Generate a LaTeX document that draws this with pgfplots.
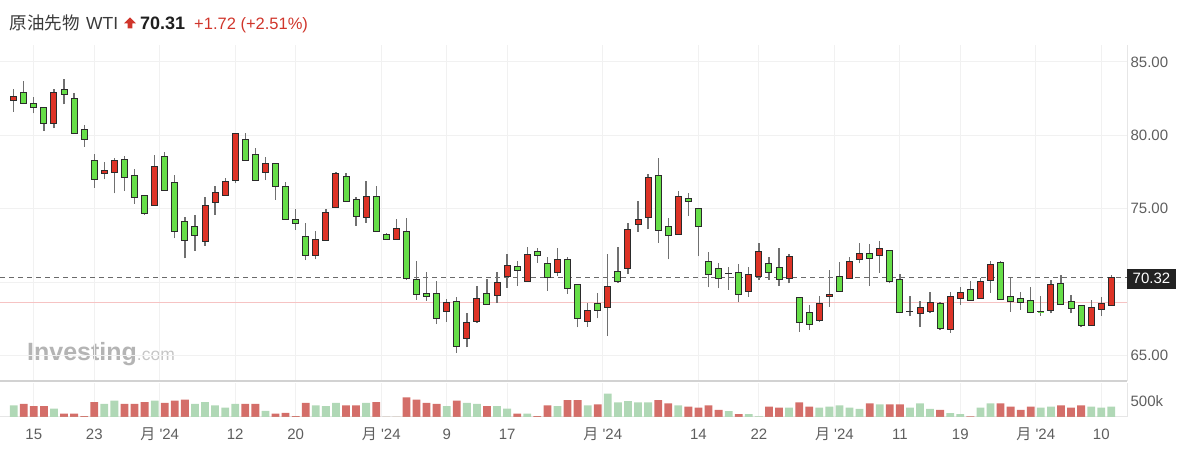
\documentclass[border=0pt]{standalone}
\usepackage{pgfplots}
\pgfplotsset{compat=1.18}
\usepackage{pgfplotstable}
\usepackage{fontspec}
\setmainfont{Liberation Sans}
\newfontfamily\cjk{Noto Sans CJK JP}
\definecolor{cred}{HTML}{DD3326}
\definecolor{cgreen}{HTML}{66DE48}
\definecolor{outl}{HTML}{2B2B2B}
\definecolor{wickc}{HTML}{707070}
\definecolor{vred}{HTML}{D46E69}
\definecolor{vgreen}{HTML}{B0D8B6}
\definecolor{gridc}{HTML}{F1F1F1}
\definecolor{labc}{HTML}{5E5E5E}
\definecolor{titc}{HTML}{3A3A3A}
\definecolor{titred}{HTML}{D0352B}
\definecolor{sepc}{HTML}{D2D2D2}
\definecolor{bordc}{HTML}{E6E6E6}
\definecolor{dashc}{HTML}{6A6A6A}
\definecolor{pinkc}{HTML}{F6C3C3}
\definecolor{boxc}{HTML}{222222}
\definecolor{wmc}{HTML}{B4B4B4}
\definecolor{wmc2}{HTML}{C6C6C6}
\pgfdeclareplotmark{nothing}{}

\pgfplotstableread{
i O H L C
0 82.41 83.14 81.62 82.68
1 82.89 83.73 82.18 82.18
2 82.14 82.59 81.50 81.89
3 81.89 81.95 80.30 80.78
4 80.82 83.14 80.48 82.89
5 83.12 83.82 82.12 82.82
6 82.52 82.91 80.16 80.16
7 80.39 80.71 79.23 79.75
8 78.28 78.73 76.42 76.99
9 77.42 78.21 77.01 77.60
10 77.48 78.48 76.05 78.26
11 78.35 78.60 76.21 77.12
12 77.28 77.69 75.33 75.76
13 75.90 75.95 74.60 74.67
14 75.21 78.66 75.21 77.87
15 78.55 78.89 76.28 76.28
16 76.80 77.28 72.99 73.46
17 74.15 74.42 71.63 72.87
18 73.78 74.55 72.15 73.15
19 72.76 75.83 72.49 75.21
20 75.42 76.55 74.58 76.12
21 75.94 77.08 75.90 76.83
22 76.92 80.10 76.73 80.10
23 79.69 80.19 78.32 78.32
24 78.73 79.12 76.92 76.92
25 77.48 78.55 76.96 78.10
26 78.10 78.10 75.60 76.55
27 76.51 76.85 74.28 74.28
28 74.30 74.99 73.56 73.99
29 73.10 74.06 71.51 71.85
30 71.85 73.49 71.56 72.94
31 72.87 74.96 72.87 74.76
32 75.08 77.53 75.08 77.41
33 77.19 77.46 75.53 75.53
34 75.64 75.83 73.83 74.46
35 74.40 76.89 74.06 75.87
36 75.83 76.58 73.44 73.44
37 73.22 73.37 72.94 72.94
38 72.94 74.31 72.94 73.69
39 73.44 74.35 70.15 70.26
40 70.20 71.45 68.80 69.17
41 69.24 70.72 68.74 69.06
42 69.24 70.08 67.15 67.54
43 67.99 68.86 67.31 68.63
44 68.67 69.00 65.20 65.65
45 66.17 67.88 65.56 67.24
46 67.31 69.76 67.24 68.90
47 69.24 70.22 68.51 68.51
48 69.08 70.67 68.60 69.97
49 70.42 71.90 69.63 71.12
50 71.06 71.44 69.74 70.79
51 70.04 72.42 70.04 71.90
52 72.06 72.31 71.33 71.85
53 71.28 71.74 69.42 70.30
54 70.65 72.35 70.42 71.56
55 71.56 71.69 69.20 69.58
56 69.85 69.85 66.92 67.54
57 67.31 68.56 66.97 68.10
58 68.56 69.24 67.54 68.06
59 68.29 71.90 66.33 69.74
60 70.71 72.42 69.97 70.04
61 70.90 74.05 70.56 73.62
62 73.94 75.55 73.44 74.30
63 74.40 77.37 73.60 77.12
64 77.30 78.44 72.69 73.55
65 73.78 74.40 71.56 73.17
66 73.28 76.23 73.28 75.83
67 75.67 76.05 74.53 75.49
68 75.03 75.03 71.78 73.78
69 71.44 72.08 69.65 70.54
70 70.94 71.28 69.58 70.26
71 70.62 71.06 69.47 70.60
72 70.65 71.24 68.67 69.13
73 69.40 71.01 69.01 70.53
74 70.42 72.64 70.15 72.08
75 71.28 71.69 70.15 70.65
76 70.99 72.31 69.74 70.15
77 70.26 71.90 69.92 71.74
78 68.95 68.95 66.63 67.24
79 67.92 68.45 66.74 67.13
80 67.42 69.08 67.26 68.56
81 69.01 70.83 68.33 69.17
82 70.38 71.38 69.36 69.36
83 70.22 71.74 70.22 71.44
84 71.56 72.65 71.29 71.97
85 71.97 72.58 69.74 71.63
86 71.81 72.81 70.65 72.31
87 72.19 72.19 69.92 70.04
88 70.20 70.54 67.95 67.95
89 68.03 69.08 67.70 68.02
90 67.88 68.74 66.97 68.29
91 67.99 69.36 67.88 68.63
92 68.52 68.67 66.74 66.86
93 66.79 69.36 66.56 69.06
94 68.90 69.65 68.45 69.31
95 69.47 70.10 68.74 68.74
96 68.90 70.31 68.90 70.04
97 70.10 71.47 69.29 71.22
98 71.35 71.44 68.79 68.79
99 69.02 70.26 67.99 68.67
100 68.86 69.36 68.11 68.63
101 68.74 69.65 67.88 67.92
102 68.00 69.06 67.70 67.99
103 68.04 70.15 67.88 69.85
104 69.92 70.49 68.49 68.49
105 68.67 69.13 67.88 68.22
106 68.38 68.38 66.93 67.08
107 67.02 68.79 67.02 68.29
108 68.11 69.01 67.72 68.56
109 68.38 70.49 68.38 70.31
}\ohlc

% volume in units of 100k; r = down day (red), g = up day (green)
\pgfplotstableread{
i r g
0 0 3.6
1 4.0 0
2 3.3 0
3 3.3 0
4 0 2.6
5 1.0 0
6 1.0 0
7 0.3 0
8 4.6 0
9 0 4.0
10 0 5.0
11 4.0 0
12 4.0 0
13 4.6 0
14 0 5.0
15 4.3 0
16 5.0 0
17 5.3 0
18 0 4.0
19 0 4.6
20 0 3.6
21 0 2.9
22 0 4.0
23 4.0 0
24 4.0 0
25 0 1.9
26 1.0 0
27 1.3 0
28 0.3 0
29 4.3 0
30 0 3.6
31 0 3.3
32 0 4.3
33 3.6 0
34 3.6 0
35 0 4.3
36 4.6 0
37 0 0
38 0 0
39 6.0 0
40 5.3 0
41 4.3 0
42 4.0 0
43 0 3.3
44 5.0 0
45 0 4.3
46 0 4.0
47 3.3 0
48 0 3.3
49 0 2.6
50 1.0 0
51 0 1.0
52 0.3 0
53 3.6 0
54 0 3.3
55 5.2 0
56 5.2 0
57 0 3.6
58 3.9 0
59 0 7.2
60 0 4.5
61 0 4.9
62 0 4.5
63 0 4.5
64 5.2 0
65 4.2 0
66 0 3.6
67 3.2 0
68 2.9 0
69 3.6 0
70 2.2 0
71 0 1.8
72 0.9 0
73 0 0.9
74 0 0.2
75 3.2 0
76 2.9 0
77 0 2.9
78 4.5 0
79 3.2 0
80 0 2.9
81 0 3.2
82 0 3.6
83 0 2.9
84 0 2.5
85 4.2 0
86 0 3.9
87 3.9 0
88 3.9 0
89 0 2.9
90 0 4.2
91 0 2.5
92 2.2 0
93 0 1.2
94 0 0.9
95 0.2 0
96 0 2.9
97 0 4.2
98 4.2 0
99 3.2 0
100 2.2 0
101 3.2 0
102 0 2.9
103 0 3.2
104 3.6 0
105 2.9 0
106 3.6 0
107 0 3.2
108 0 2.9
109 0 3.2
}\vol

\begin{document}
\begin{tikzpicture}
\useasboundingbox (0,0) rectangle (1200pt,463pt);

% watermark
\node[anchor=base west, inner sep=0pt] at (27pt,102pt)
  {\textcolor{wmc}{\bfseries\fontsize{25}{25}\selectfont Investing}\textcolor{wmc2}{\fontsize{17.5}{17.5}\selectfont .com}};

% price panel
\begin{axis}[
  at={(0pt,82pt)}, anchor=south west,
  x=10.07pt, y=14.68pt,
  xmin=-1.36, xmax=110.56, ymin=63.27, ymax=86.16,
  enlargelimits=false,
  axis x line*=bottom, axis y line*=right,
  x axis line style={draw=sepc, line width=1.6pt},
  y axis line style={draw=bordc, line width=1pt},
  xtick={2,8,14.5,22,28,36.5,43,49,58.5,68,74,81.5,88,94,101.5,108},
  xticklabels={},
  ytick={65,70,75,80,85},
  yticklabels={65.00,,75.00,80.00,85.00},
  yticklabel style={font=\fontsize{15}{18}\selectfont, text=labc},
  major tick length=0pt,
  xmajorgrids, ymajorgrids,
  grid style={draw=gridc, line width=1pt},
]
\addplot[draw=pinkc, line width=1pt] coordinates {(-1.36,68.59) (110.56,68.59)};
\addplot[draw=dashc, line width=1pt, dash pattern=on 5pt off 4pt] coordinates {(-1.36,70.31) (110.56,70.31)};
\addplot[
  scatter, only marks, mark=nothing,
  visualization depends on={\thisrow{O} \as \vO},
  visualization depends on={\thisrow{H} \as \vH},
  visualization depends on={\thisrow{L} \as \vL},
  visualization depends on={\thisrow{C} \as \vC},
  scatter/@pre marker code/.code={%
    \pgfmathsetlengthmacro\hL{(\vL-\vO)*14.68}%
    \pgfmathsetlengthmacro\hH{(\vH-\vO)*14.68}%
    \pgfmathsetlengthmacro\hC{(\vC-\vO)*14.68}%
    \ifdim\hC<0pt\def\bodycol{cgreen}\else\def\bodycol{cred}\fi
    \draw[draw=wickc, line width=1.3pt] (0pt,\hL) -- (0pt,\hH);
    \filldraw[fill=\bodycol, draw=outl, line width=1pt] (-3pt,0pt) rectangle (3pt,\hC);
  },
  scatter/@post marker code/.code={},
] table[x=i, y=O] {\ohlc};
\coordinate (lastp) at (axis cs:110.56,70.31);
\end{axis}

\node[fill=boxc, text=white, anchor=west, inner xsep=5.5pt, inner ysep=0pt,
      minimum height=20pt, font=\fontsize{15}{18}\selectfont] at ([yshift=-1pt]lastp) {70.32};

% volume panel
\begin{axis}[
  at={(0pt,46pt)}, anchor=south west,
  x=10.07pt, y=3.26pt,
  xmin=-1.36, xmax=110.56, ymin=0, ymax=10.3,
  enlargelimits=false,
  axis x line*=bottom, axis y line*=right,
  x axis line style={draw=bordc, line width=1pt},
  y axis line style={draw=bordc, line width=1pt},
  xtick={2,8,14.5,22,28,36.5,43,49,58.5,68,74,81.5,88,94,101.5,108},
  xticklabels={15,23,{{\cjk 月} \textquotesingle 24},12,20,{{\cjk 月} \textquotesingle 24},9,17,{{\cjk 月} \textquotesingle 24},14,22,{{\cjk 月} \textquotesingle 24},11,19,{{\cjk 月} \textquotesingle 24},10},
  xticklabel style={font=\fontsize{15}{17}\selectfont, text=labc, text height=11pt, text depth=3pt, inner sep=0pt, anchor=north, yshift=-11pt},
  ytick={5}, yticklabels={500k},
  yticklabel style={font=\fontsize{15}{18}\selectfont, text=labc},
  major tick length=0pt,
  xmajorgrids,
  grid style={draw=gridc, line width=1pt},
]
\addplot[ybar, bar width=7.8pt, bar shift=0pt, fill=vred, draw=none] table[x=i, y=r] {\vol};
\addplot[ybar, bar width=7.8pt, bar shift=0pt, fill=vgreen, draw=none] table[x=i, y=g] {\vol};
\end{axis}

% title
\node[anchor=base west, inner sep=0pt, text=titc, font=\cjk\fontsize{17.5}{20}\selectfont] at (9.3pt,433.7pt) {原油先物};
\node[anchor=base west, inner sep=0pt, text=titc, font=\fontsize{17.5}{20}\selectfont] at (86pt,433.7pt) {WTI};
\fill[titred] (130pt,445.7pt) -- (136pt,439.5pt) -- (132.3pt,439.5pt) -- (132.3pt,434.7pt) -- (127.7pt,434.7pt) -- (127.7pt,439.5pt) -- (124pt,439.5pt) -- cycle;
\node[anchor=base west, inner sep=0pt, text=black!88, font=\bfseries\fontsize{18}{20}\selectfont] at (140pt,433.7pt) {70.31};
\node[anchor=base west, inner sep=0pt, text=titred, font=\fontsize{16.5}{20}\selectfont] at (194pt,433.7pt) {+1.72 (+2.51\%)};
\end{tikzpicture}
\end{document}
